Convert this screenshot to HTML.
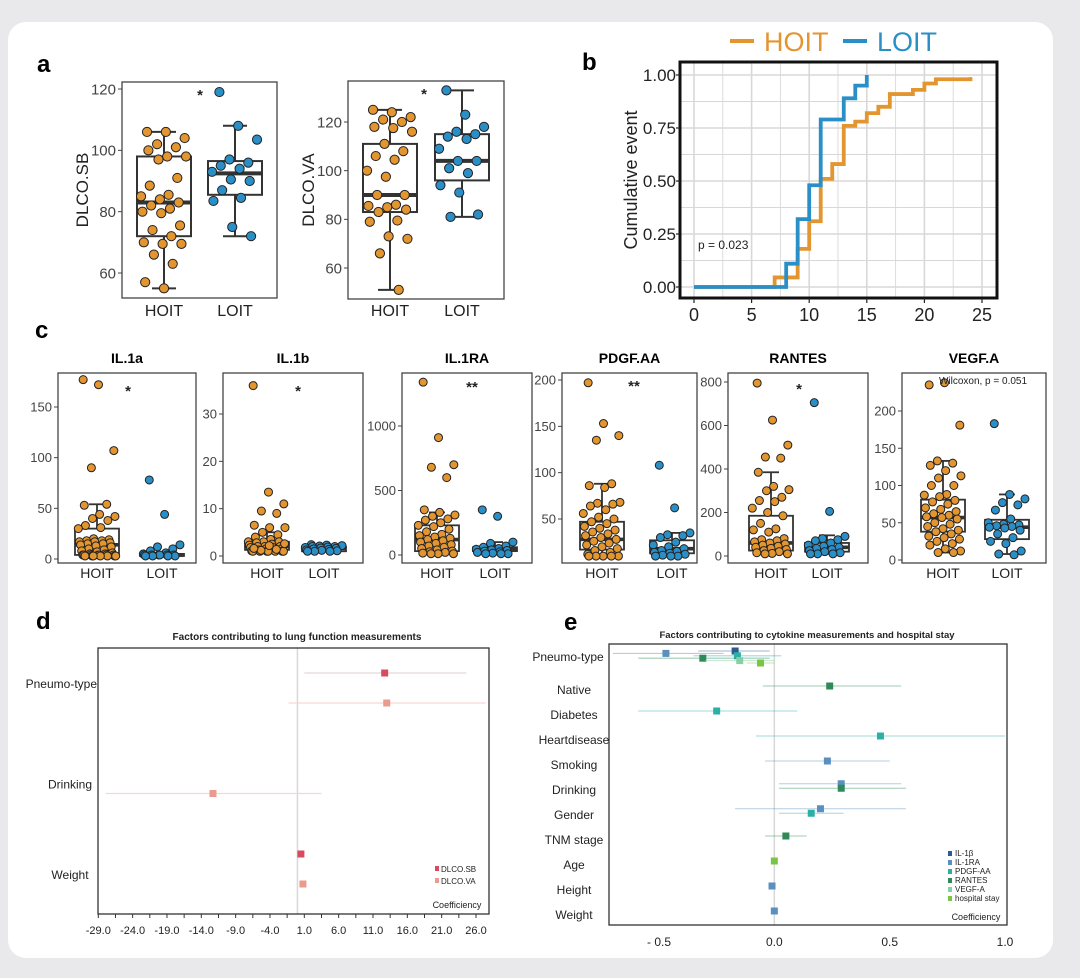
<!DOCTYPE html>
<html><head><meta charset="utf-8"><style>
html,body{margin:0;padding:0;background:#e9e9eb;}
svg{display:block;font-family:"Liberation Sans",Arial,sans-serif;}
</style></head><body>
<svg id="fig" width="1080" height="978" viewBox="0 0 1080 978" xmlns="http://www.w3.org/2000/svg">
<rect x="8" y="22" width="1045" height="936" rx="18" fill="#ffffff"/>
<text x="37" y="72" font-size="24" font-weight="bold">a</text>
<text x="582" y="70" font-size="24" font-weight="bold">b</text>
<text x="35" y="338" font-size="24" font-weight="bold">c</text>
<text x="36" y="629" font-size="24" font-weight="bold">d</text>
<text x="564" y="630" font-size="24" font-weight="bold">e</text>
</svg>
<script>
// ---------- DATA ----------
// panel a
const aGroups = ["HOIT","LOIT"];
const sbHoit = [106,106,104,102,101,100,98,98,97,91,88.5,85.5,85,84,83,82,81,80,79.5,75.5,74,72,70,69.5,69.5,66,63,57,55];
const sbLoit = [119,108,103.5,97,96,95,94,93,90.5,90,87,84.5,83.5,75,72];
const sbStats = [[55,72,83,98,106],[72,85.5,92.5,96.5,108]];
const vaHoit = [125,124,122,121,120,118,117.5,116,111,108,106,104.5,100,97.5,90,90,86,85.5,85,84,83,79.5,79,73,72,66,51];
const vaLoit = [133,123,118,116,115,114,113,109,104,104,101,99,94,91,82,81];
const vaStats = [[51,83,90,111,125],[81,96,104,115,133]];
const sbTicks = [60,80,100,120];
const vaTicks = [60,80,100,120];
// panel b
const bXTicks = [0,5,10,15,20,25];
const bYTicks = [0,0.25,0.5,0.75,1.0];
const hoitTimes = [7,9,10,11,12,13,14,15,16,17,19,20,21,24];
const hoitCum = [0.045,0.18,0.31,0.51,0.58,0.76,0.78,0.82,0.85,0.91,0.93,0.96,0.98,0.99];
const loitTimes = [8,9,10,11,13,14,15];
const loitCum = [0.11,0.32,0.48,0.79,0.89,0.95,1.0];
// panel c
const cTitles = ["IL.1a","IL.1b","IL.1RA","PDGF.AA","RANTES","VEGF.A"];
const cSig = ["*","*","**","**","*","Wilcoxon, p = 0.051"];
const il1aHoit = [177,172,107,90,54,53,44,42,40,38,33,31,30,20,19,18,18,17,17,16,15,15,14,13,12,10,9,8,7,6,5,5,4,4,4,4,4,4,4,3,3,3,3,3,3,3];
const il1aLoit = [78,44,14,12,10,8,6,5,4,4,4,4,4,4,3,3,3,3];
const il1bHoit = [36,13.5,11,9.5,9,6.5,6,6,5,4.5,4,3.5,3,3,3,2.8,2.5,2.3,2,2,2,1.8,1.8,1.5,1.5,1.3,1.2,1.1,1,1,1,1,1,1,1,1.2,1.4,1.6,2.2,2.6];
const il1bLoit = [2.4,2.3,2.2,2.1,2,2,1.9,1.8,1.7,1.6,1.5,1.4,1.3,1.2,1.1,1,1,1];
const il1raHoit = [1340,910,700,680,600,350,330,310,300,280,270,250,230,220,200,180,160,150,140,130,120,110,100,90,80,70,60,50,40,30,25,20,15,10,10,10];
const il1raLoit = [350,300,100,90,70,60,50,45,40,35,30,25,20,15,10,10,10];
const pdgfHoit = [197,153,140,135,88,86,84,68,67,66,64,60,56,52,50,47,45,42,40,38,36,34,32,30,28,26,24,22,20,18,16,14,12,10,10,10,10,10];
const pdgfLoit = [108,62,35,33,32,30,25,22,20,18,16,15,14,13,12,11,10,10,10];
const rantesHoit = [795,625,510,455,450,385,320,305,300,270,255,250,220,200,185,150,125,120,110,80,75,70,65,60,55,50,45,40,35,30,25,20,15,12,10,10];
const rantesLoit = [705,205,90,80,75,70,60,50,45,40,35,30,25,20,15,10,10,10];
const vegfHoit = [235,238,181,133,130,127,120,113,110,100,100,88,87,85,80,78,75,70,68,65,62,60,58,57,55,50,48,45,42,40,38,35,32,30,28,25,22,20,15,12,10,10];
const vegfLoit = [183,88,82,77,74,67,55,50,48,47,46,45,44,43,40,35,30,25,22,12,8,7];
const il1aStats = [[3,4,14,30,54],[3,3,4,5,6]];
const il1bStats = [[1,1.3,2,3,5],[1,1,1.6,2,2.4]];
const il1raStats = [[10,30,120,230,330],[10,30,45,60,100]];
const pdgfStats = [[10,17,28,47,88],[10,13,18,27,35]];
const rantesStats = [[10,25,60,185,385],[10,20,40,60,95]];
const vegfStats = [[10,38,57,81,133],[8,28,44,54,88]];
const il1aTicks = [0,50,100,150];
const il1bTicks = [0,10,20,30];
const il1raTicks = [0,500,1000];
const pdgfTicks = [50,100,150,200];
const rantesTicks = [0,200,400,600,800];
const vegfTicks = [0,50,100,150,200];
// panel d
const dRows = ["Pneumo-type","Drinking","Weight"];
const dSeries = ["DLCO.SB","DLCO.VA"];
const dRowIdx = [0,0,1,2,2];
const dSerIdx = [0,1,1,0,1];
const dCoef = [12.7,13,-12.3,0.5,0.8];
const dLow = [1.0,-1.3,-27.9,0.3,0.6];
const dHigh = [24.6,27.4,3.5,0.7,1.0];
const dTicks = [-29,-24,-19,-14,-9,-4,1,6,11,16,21,26];
// panel e
const eRows = ["Pneumo-type","Native","Diabetes","Heartdisease","Smoking","Drinking","Gender","TNM stage","Age","Height","Weight"];
const eSeries = ["IL-1β","IL-1RA","PDGF-AA","RANTES","VEGF-A","hospital stay"];
const eRowIdx = [0,0,0,0,0,0,1,2,3,4,5,5,6,6,7,8,9,10];
const eSerIdx = [0,1,2,3,4,5,3,2,2,1,1,3,1,2,3,5,1,1];
const eCoef = [-0.17,-0.47,-0.16,-0.31,-0.15,-0.06,0.24,-0.25,0.46,0.23,0.29,0.29,0.2,0.16,0.05,0.0,-0.01,0.0];
const eLow = [-0.33,-0.7,-0.35,-0.59,-0.3,-0.12,-0.05,-0.59,-0.08,-0.04,0.02,0.02,-0.17,0.02,-0.04,-0.01,-0.02,-0.01];
const eHigh = [-0.02,-0.22,0.03,-0.02,0.0,0.0,0.55,0.1,1.0,0.5,0.55,0.57,0.57,0.3,0.14,0.01,0.0,0.01];
const eTicks = [-0.5,0.0,0.5,1.0];

// ---------- HELPERS ----------
const NS="http://www.w3.org/2000/svg";
const svg=document.getElementById('fig');
function el(tag,a,p){const e=document.createElementNS(NS,tag);for(const k in a)e.setAttribute(k,a[k]);(p||svg).appendChild(e);return e;}
function tx(s,a,p){const e=el('text',a,p);e.textContent=s;return e;}
const ORANGE="#e39530", BLUE="#2b8fc7";
function lin(v0,p0,v1,p1){return v=>p0+(v-v0)*(p1-p0)/(v1-v0);}
function jit(i,w){return ((((i*7919+13)%101)/100)-0.5)*w;}

function boxPlot(c){
  const g=el('g',{});
  
  
  const y=lin(c.vA,c.pA,c.vB,c.pB);
  const fr=el('rect',{x:c.x0,y:c.y0,width:c.x1-c.x0,height:c.y1-c.y0,fill:'#fff',stroke:'#444','stroke-width':1.3},g);
  
  
  c.ticks.forEach(t=>{
    const tl=el('line',{x1:c.x0-4,x2:c.x0,y1:y(t),y2:y(t),stroke:'#444','stroke-width':1},g);
    
    
    const tt=tx(String(t),{x:c.x0-6,y:y(t)+c.fs*0.35,'font-size':c.fs,'text-anchor':'end',fill:'#444'},g);
    
    
  });
  aGroups.forEach((gname,k)=>{
    const cx=c.centers[k], s=c.stats[k], hw=c.bw/2;
    const wl=el('line',{x1:cx,x2:cx,y1:y(s[0]),y2:y(s[4]),stroke:'#333','stroke-width':c.lw},g);
    
    
    [s[0],s[4]].forEach(v=>{
      const cap=el('line',{x1:cx-c.cap,x2:cx+c.cap,y1:y(v),y2:y(v),stroke:'#333','stroke-width':c.lw},g);
      
      
    });
    const bx=el('rect',{x:cx-hw,y:y(s[3]),width:c.bw,height:y(s[1])-y(s[3]),fill:'#fff',stroke:'#333','stroke-width':c.lw},g);
    
    
    const md=el('line',{x1:cx-hw,x2:cx+hw,y1:y(s[2]),y2:y(s[2]),stroke:'#333','stroke-width':c.lw*2},g);
    
    
    const xl=tx(gname,{x:cx,y:c.xly,'font-size':c.xfs,'text-anchor':'middle',fill:'#222'},g);
    
    
  });
  aGroups.forEach((gname,k)=>{
    c.pts[k].forEach((v,i)=>{
      const p=el('circle',{cx:c.centers[k]+jit(i+k*5,c.bw*0.85),cy:y(v),r:c.r,fill:k?BLUE:ORANGE,stroke:'#222','stroke-width':1},g);
      
      
    });
  });
  if(c.title){const t=tx(c.title,{x:(c.x0+c.x1)/2,y:c.y0-10,'font-size':14,'font-weight':'bold','text-anchor':'middle'},g);
    
    }
  if(c.ylabel){const t=tx(c.ylabel,{x:0,y:0,'font-size':17,'text-anchor':'middle',fill:'#222',transform:`translate(${c.ylx},${(c.y0+c.y1)/2}) rotate(-90)`},g);
    
    }
  if(c.sig){const long=c.sig.length>3;
    const t=tx(c.sig,{x:c.sigx,y:c.sigy,'font-size':long?10:15,'font-weight':long?'normal':'bold','text-anchor':'middle',fill:'#222'},g);
    
    }
}

// ---------- PANEL A ----------
boxPlot({name:'panel-a-dlco-sb',x0:122,x1:277,y0:82,y1:298,vA:60,pA:273,vB:120,pB:89,ticks:sbTicks,fs:15,centers:[164,235],bw:54,cap:12,lw:2,stats:sbStats,pts:[sbHoit,sbLoit],r:4.6,xly:316,xfs:16,ylabel:'DLCO.SB',ylx:88,sig:'*',sigx:200,sigy:100});
boxPlot({name:'panel-a-dlco-va',x0:348,x1:504,y0:81,y1:299,vA:60,pA:268,vB:120,pB:122,ticks:vaTicks,fs:15,centers:[390,462],bw:54,cap:12,lw:2,stats:vaStats,pts:[vaHoit,vaLoit],r:4.6,xly:316,xfs:16,ylabel:'DLCO.VA',ylx:314,sig:'*',sigx:424,sigy:99});

// ---------- PANEL B ----------
(function(){
  const g=el('g',{});
  
  
  const x=lin(0,694,25,982), y=lin(0,287,1,75);
  const X0=680,X1=997,Y0=62,Y1=298;
  for(let v=-2.5;v<=27.5;v+=2.5){const px=x(v);if(px<X0||px>X1)continue;
    const l=el('line',{x1:px,x2:px,y1:Y0,y2:Y1,stroke:'#d8d8d8','stroke-width':(v%5===0)?1.6:0.9},g);
    
    }
  for(let v=-0.125;v<=1.125;v+=0.125){const py=y(v);if(py<Y0||py>Y1)continue;
    const l=el('line',{x1:X0,x2:X1,y1:py,y2:py,stroke:'#d8d8d8','stroke-width':(Math.round(v*1000)%250===0)?1.6:0.9},g);
    
    }
  function step(times,vals){let d=`M${x(0)},${y(0)}`;times.forEach((t,i)=>{d+=`H${x(t)}V${y(vals[i])}`;});return d;}
  const ho=el('path',{d:step(hoitTimes,hoitCum),fill:'none',stroke:ORANGE,'stroke-width':3.8},g);
  
  
  const lo=el('path',{d:step(loitTimes,loitCum),fill:'none',stroke:BLUE,'stroke-width':3.8},g);
  
  
  const fr=el('rect',{x:X0,y:Y0,width:X1-X0,height:Y1-Y0,fill:'none',stroke:'#111','stroke-width':3},g);
  
  
  bXTicks.forEach(t=>{
    const tl=el('line',{x1:x(t),x2:x(t),y1:Y1,y2:Y1+5,stroke:'#222','stroke-width':1.2},g);
    
    
    const tt=tx(String(t),{x:x(t),y:Y1+23,'font-size':18,'text-anchor':'middle',fill:'#222'},g);
    
    
  });
  bYTicks.forEach(t=>{
    const tl=el('line',{x1:X0-4,x2:X0,y1:y(t),y2:y(t),stroke:'#222','stroke-width':1.2},g);
    
    
    const tt=tx(t.toFixed(2),{x:X0-4,y:y(t)+6,'font-size':17,'text-anchor':'end',fill:'#222'},g);
    
    
  });
  const yt=tx('Cumulative event',{x:0,y:0,'font-size':18,'text-anchor':'middle',fill:'#222',transform:'translate(637,180) rotate(-90)'},g);
  
  
  const pv=tx('p = 0.023',{x:698,y:249,'font-size':12,fill:'#222'},g);
  
  
  const l1=el('line',{x1:730,x2:754,y1:41,y2:41,stroke:ORANGE,'stroke-width':4},g);
  
  
  const t1=tx('HOIT',{x:764,y:51,'font-size':27,fill:ORANGE},g);
  
  
  const l2=el('line',{x1:843,x2:867,y1:41,y2:41,stroke:BLUE,'stroke-width':4},g);
  
  
  const t2=tx('LOIT',{x:877,y:51,'font-size':27,fill:BLUE},g);
  
  
})();

// ---------- PANEL C ----------
const cfgC=[
 {x0:58,x1:196,vA:0,pA:559,vB:150,pB:407,ticks:il1aTicks,centers:[97,162],stats:il1aStats,pts:[il1aHoit,il1aLoit],sigx:128,sigy:396},
 {x0:223,x1:363,vA:0,pA:556,vB:30,pB:414,ticks:il1bTicks,centers:[267,324],stats:il1bStats,pts:[il1bHoit,il1bLoit],sigx:298,sigy:396},
 {x0:402,x1:532,vA:0,pA:555,vB:1000,pB:426,ticks:il1raTicks,centers:[437,495],stats:il1raStats,pts:[il1raHoit,il1raLoit],sigx:472,sigy:392},
 {x0:562,x1:697,vA:50,pA:519,vB:200,pB:380,ticks:pdgfTicks,centers:[602,672],stats:pdgfStats,pts:[pdgfHoit,pdgfLoit],sigx:634,sigy:391},
 {x0:728,x1:868,vA:0,pA:556,vB:800,pB:382,ticks:rantesTicks,centers:[771,827],stats:rantesStats,pts:[rantesHoit,rantesLoit],sigx:799,sigy:394},
 {x0:902,x1:1046,vA:0,pA:560,vB:200,pB:411,ticks:vegfTicks,centers:[943,1007],stats:vegfStats,pts:[vegfHoit,vegfLoit],sigx:983,sigy:384}
];
cfgC.forEach((c,i)=>{
  boxPlot(Object.assign({name:'panel-c-'+cTitles[i].toLowerCase().replace('.','-'),y0:373,y1:563,fs:13,bw:44,cap:8,lw:1.8,r:4,xly:578,xfs:14,title:cTitles[i],sig:cSig[i]},c));
});

// ---------- PANEL D ----------
(function(){
  const g=el('g',{});
  
  
  const X0=98,X1=489,Y0=648,Y1=914;
  const x=lin(-29,98.3,26,476);
  const dCol=["#d94a5f","#eb9a8e"], dCI=["#e8d6d8","#f6d8d2"];
  const rowY=i=>688+i*90.5;
  const t=tx('Factors contributing to lung function measurements',{x:297,y:640,'font-size':10,'font-weight':'bold','text-anchor':'middle',fill:'#222'},g);
  
  
  const z=el('line',{x1:x(0),x2:x(0),y1:Y0,y2:Y1,stroke:'#d8d8d8','stroke-width':1.5},g);
  
  
  const fr=el('rect',{x:X0,y:Y0,width:X1-X0,height:Y1-Y0,fill:'none',stroke:'#333','stroke-width':1.3},g);
  
  
  for(let v=-29;v<=28;v+=2.5){
    const tl=el('line',{x1:x(v),x2:x(v),y1:Y1,y2:Y1+4,stroke:'#333','stroke-width':1},g);
    
    
  }
  dTicks.forEach(v=>{
    const tt=tx(v.toFixed(1),{x:x(v),y:934,'font-size':11,'text-anchor':'middle',fill:'#222'},g);
    
    
  });
  dRows.forEach((r,i)=>{
    const tt=tx(r,{x:i===0?97:70,y:rowY(i)+(i===0?0:10),'font-size':12,'text-anchor':i===0?'end':'middle',fill:'#222'},g);
    
    
  });
  dCoef.forEach((v,i)=>{
    const py=rowY(dRowIdx[i])+(dSerIdx[i]?15:-15), s=dSerIdx[i];
    const ci=el('line',{x1:x(dLow[i]),x2:x(dHigh[i]),y1:py,y2:py,stroke:dCI[s],'stroke-width':1.2},g);
    
    
    const m=el('rect',{x:x(v)-3.5,y:py-3.5,width:7,height:7,fill:dCol[s]},g);
    
    
  });
  dSeries.forEach((s,i)=>{
    const sw=el('rect',{x:435,y:866+i*12,width:4,height:5,fill:dCol[i]},g);
    
    
    const lt=tx(s,{x:441,y:872+i*12,'font-size':8,fill:'#222'},g);
    
    
  });
  const co=tx('Coefficiency',{x:457,y:908,'font-size':9,'text-anchor':'middle',fill:'#222'},g);
  
  
})();

// ---------- PANEL E ----------
(function(){
  const g=el('g',{});
  
  
  const X0=609,X1=1007,Y0=644,Y1=925;
  const x=lin(-0.5,659,1.0,1005);
  const eCol=["#2d5b8e","#5b8fbf","#2bb0a6","#2f8a58","#86d0a8","#7cc444"];
  const rowY=i=>661+i*25;
  const t=tx('Factors contributing to cytokine measurements and hospital stay',{x:807,y:638,'font-size':9.5,'font-weight':'bold','text-anchor':'middle',fill:'#222'},g);
  
  
  const z=el('line',{x1:x(0),x2:x(0),y1:Y0,y2:Y1,stroke:'#d8d8d8','stroke-width':1.5},g);
  
  
  const fr=el('rect',{x:X0,y:Y0,width:X1-X0,height:Y1-Y0,fill:'none',stroke:'#333','stroke-width':1.3},g);
  
  
  eTicks.forEach(v=>{
    const tt=tx((v<0?'- ':'')+Math.abs(v).toFixed(1),{x:x(v),y:946,'font-size':12,'text-anchor':'middle',fill:'#222'},g);
    
    
  });
  eRows.forEach((r,i)=>{
    const tt=tx(r,{x:i===0?568:574,y:rowY(i)+(i===0?0:8),'font-size':12,'text-anchor':'middle',fill:'#222'},g);
    
    
  });
  const cnt={}, seen={};
  eRowIdx.forEach(r=>{cnt[r]=(cnt[r]||0)+1;});
  eCoef.forEach((v,i)=>{
    const r=eRowIdx[i]; seen[r]=(seen[r]||0); const k=seen[r]++; const n=cnt[r];
    const sp=n>4?2.4:4.5;
    const py=rowY(r)+(k-(n-1)/2)*sp - (n>4?4:0);
    const s=eSerIdx[i];
    const ci=el('line',{x1:x(eLow[i]),x2:Math.min(x(eHigh[i]),X1),y1:py,y2:py,stroke:eCol[s],'stroke-opacity':0.45,'stroke-width':1.1},g);
    
    
    const m=el('rect',{x:x(v)-3.5,y:py-3.5,width:7,height:7,fill:eCol[s]},g);
    
    
  });
  eSeries.forEach((s,i)=>{
    const sw=el('rect',{x:948,y:851+i*9,width:4,height:5,fill:eCol[i]},g);
    
    
    const lt=tx(s,{x:955,y:856+i*9,'font-size':8,fill:'#222'},g);
    
    
  });
  const co=tx('Coefficiency',{x:976,y:920,'font-size':9,'text-anchor':'middle',fill:'#222'},g);
  
  
})();
</script>
</body></html>
